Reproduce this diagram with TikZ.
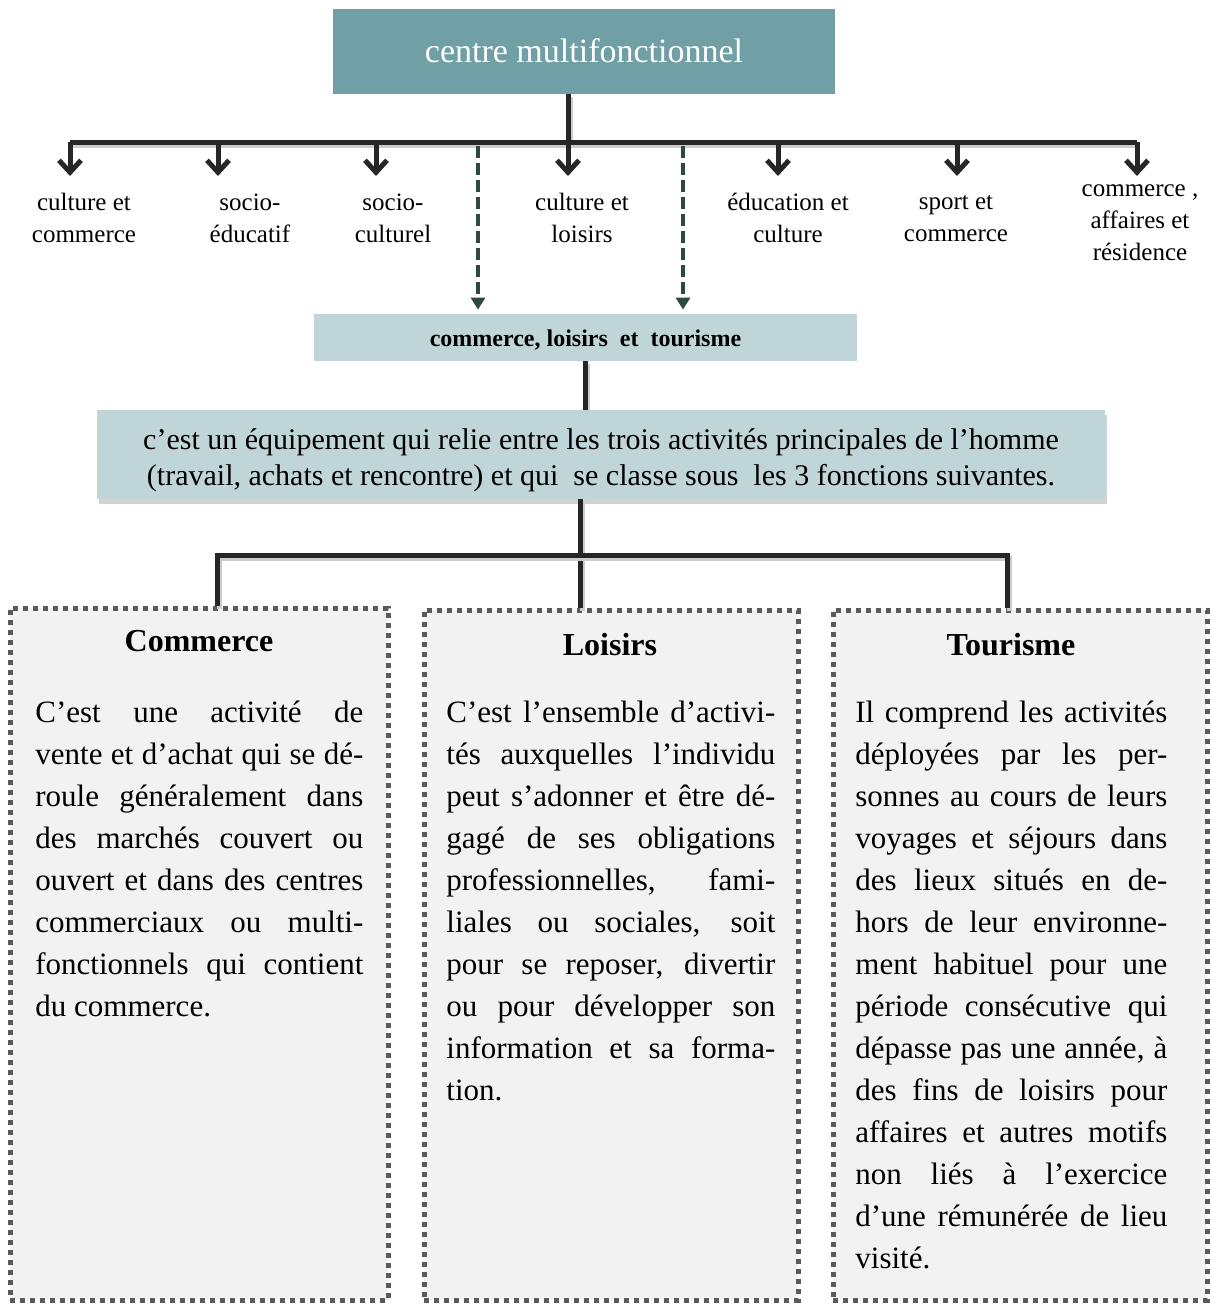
\documentclass[tikz,border=0pt]{standalone}
\usepackage{fontspec}
\setmainfont{Liberation Serif}
\usetikzlibrary{positioning,shadows,arrows.meta,calc}
\definecolor{tealbox}{HTML}{70A0A6}
\definecolor{palebox}{HTML}{C0D5D8}
\definecolor{linegray}{HTML}{262626}
\definecolor{dashgreen}{HTML}{2F4A3C}
\definecolor{dotgray}{HTML}{5A5A5A}
\definecolor{cardfill}{HTML}{F2F2F2}

\begin{document}
\begin{tikzpicture}[x=0.5pt,y=-0.5pt]
	% styles
	\tikzstyle{topbox} = [rectangle, fill=tealbox, text=white, minimum width=251pt, minimum height=42.5pt, font=\fontsize{17}{20}\selectfont]	% main box
	\tikzstyle{branch} = [align=center, inner sep=0pt, font=\fontsize{12.5}{16}\selectfont]	% branch labels
	\tikzstyle{subbox} = [rectangle, fill=palebox, minimum width=271.5pt, minimum height=23.5pt, font=\fontsize{12}{14}\selectfont\bfseries]
	\tikzstyle{infobox} = [rectangle, fill=palebox, minimum width=504pt, minimum height=42.5pt, align=center, font=\fontsize{15}{18}\selectfont, drop shadow={shadow xshift=1pt, shadow yshift=-2.5pt, fill=black!35}]
	\tikzstyle{card} = [rectangle, fill=cardfill, draw=dotgray, line width=2.5pt, dash pattern=on 2.5pt off 2.5pt, minimum height=346pt]
	\tikzstyle{cardtitle} = [font=\fontsize{16}{19}\selectfont\bfseries]
	\tikzstyle{cardtext} = [anchor=north west, align=justify, inner sep=0pt, font=\fontsize{15.5}{21}\selectfont]
	\tikzstyle{bar} = [draw=linegray, line width=2.5pt, preaction={draw=black!20, line width=2.5pt, transform canvas={shift={(1pt,-1.5pt)}}}]
	\tikzstyle{arrow} = [draw=linegray, line width=2.5pt, -{Straight Barb[length=6pt,width=11pt]}]
	\tikzstyle{dasharrow} = [draw=dashgreen, line width=2pt, dash pattern=on 6pt off 2.5pt, shorten >=2pt, -{Triangle[length=6pt,width=7pt]}]

	\useasboundingbox (0,0) rectangle (1211,1308);

	% top level
	\node (top) [topbox] at (584,51) {centre multifonctionnel};
	\foreach \x [count=\i] in {70,218,376,568,778,957,1137}
		\coordinate (a\i) at (\x,142);
	\draw [bar] (a4 |- top.south) -- (a4);
	\draw [bar] (a1) -- (a7);
	\foreach \i in {1,...,7}
		\draw [arrow] (a\i) -- ++(0,34);

	\node (cc) [branch] at (84,218) {culture et\\commerce};
	\node (se) [branch] at (250,218) {socio-\\éducatif};
	\node (sc) [branch] at (393,218) {socio-\\culturel};
	\node (cl) [branch] at (582,218) {culture et\\loisirs};
	\node (ec) [branch] at (788,218) {éducation et\\culture};
	\node (sp) [branch] at (956,219) {sport et\\commerce};
	\node (car) [branch] at (1140,223) {commerce ,\\affaires et\\résidence};

	% commerce, loisirs et tourisme
	\node (sub) [subbox] at (585.5,337.5) {\rule{0pt}{11pt}commerce, loisirs\ \ et\ \ tourisme};
	\coordinate (d1) at (478,146);
	\coordinate (d2) at (683,146);
	\draw [dasharrow] (d1) -- (d1 |- sub.north);
	\draw [dasharrow] (d2) -- (d2 |- sub.north);

	\node (info) [infobox] at (601,454.5) {\rule{0pt}{16.5pt}c’est un équipement qui relie entre les trois activités principales de l’homme\\(travail, achats et rencontre) et qui\ \ se classe sous\ \ les 3 fonctions suivantes.};
	\draw [bar] (sub.south) -- (sub.south |- info.north);

	% three functions
	\node (c1) [card, minimum width=189pt] at (199,954) {};
	\node (c2) [card, minimum width=187pt, minimum height=345pt] at (611,955) {};
	\node (c3) [card, minimum width=187pt, minimum height=345pt] at (1020,955) {};

	\coordinate (hub) at (580,555);
	\draw [bar] (hub |- info.south) -- (hub |- c2.north);
	\draw [bar] (217,0 |- c1.north) -- (217,555) -- (1007,555) -- (1007,0 |- c3.north);

	\node (t1) [cardtitle] at (199,641) {Commerce};
	\node (t2) [cardtitle] at (610,645) {Loisirs};
	\node (t3) [cardtitle] at (1011,645) {Tourisme};

	\node (p1) [cardtext, text width=164pt] at (35,701) {\tolerance=10000\hyphenpenalty=10000
		C’est une activité de\linebreak vente et d’achat qui se dé-\linebreak roule généralement dans\linebreak des marchés couvert ou\linebreak ouvert et dans des centres\linebreak commerciaux ou multi-\linebreak fonctionnels qui contient\linebreak du commerce.};
	\node (p2) [cardtext, text width=164.5pt] at (446,701) {\tolerance=10000\hyphenpenalty=10000
		C’est l’ensemble d’activi-\linebreak tés auxquelles l’individu\linebreak peut s’adonner et être dé-\linebreak gagé de ses obligations\linebreak professionnelles, fami-\linebreak liales ou sociales, soit\linebreak pour se reposer, divertir\linebreak ou pour développer son\linebreak information et sa forma-\linebreak tion.};
	\node (p3) [cardtext, text width=156pt] at (855,701) {\tolerance=10000\hyphenpenalty=10000
		Il comprend les activités\linebreak déployées par les per-\linebreak sonnes au cours de leurs\linebreak voyages et séjours dans\linebreak des lieux situés en de-\linebreak hors de leur environne-\linebreak ment habituel pour une\linebreak période consécutive qui\linebreak dépasse pas une année, à\linebreak des fins de loisirs pour\linebreak affaires et autres motifs\linebreak non liés à l’exercice\linebreak d’une rémunérée de lieu\linebreak visité.};
\end{tikzpicture}
\end{document}
